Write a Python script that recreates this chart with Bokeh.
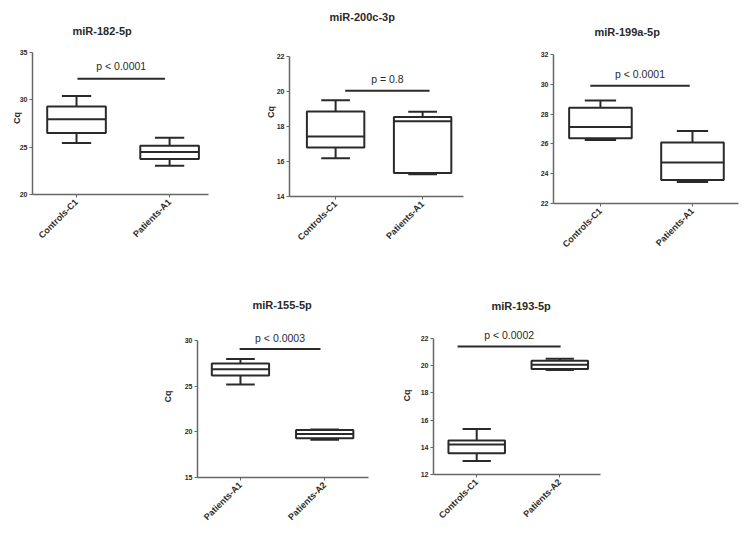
from math import pi
from bokeh.plotting import figure
from bokeh.layouts import row, column
from bokeh.models import Spacer, Range1d, FixedTicker, ColumnDataSource
from bokeh.embed import file_html
from bokeh.resources import INLINE
from bokeh.core.properties import value

# ---------------- data ----------------
titles = ["miR-182-5p", "miR-200c-3p", "miR-199a-5p", "miR-155-5p", "miR-193-5p"]
groups = [
    ["Controls-C1", "Patients-A1"],
    ["Controls-C1", "Patients-A1"],
    ["Controls-C1", "Patients-A1"],
    ["Patients-A1", "Patients-A2"],
    ["Controls-C1", "Patients-A2"],
]
y_ticks = [
    [20, 25, 30, 35],
    [14, 16, 18, 20, 22],
    [22, 24, 26, 28, 30, 32],
    [15, 20, 25, 30],
    [12, 14, 16, 18, 20, 22],
]
whisker_low = [[25.45, 23.04], [16.19, 15.27], [26.27, 23.44], [25.18, 19.13], [13.00, 19.68]]
q1 = [[26.50, 23.74], [16.80, 15.35], [26.38, 23.58], [26.16, 19.30], [13.56, 19.76]]
median = [[27.94, 24.50], [17.43, 18.30], [27.13, 24.76], [26.85, 19.75], [14.20, 20.07]]
q3 = [[29.30, 25.14], [18.86, 18.55], [28.42, 26.09], [27.47, 20.20], [14.50, 20.37]]
whisker_high = [[30.40, 26.00], [19.50, 18.84], [28.92, 26.87], [27.98, 20.25], [15.35, 20.51]]
p_labels = ["p < 0.0001", "p = 0.8", "p < 0.0001", "p < 0.0003", "p < 0.0002"]
sig_level = [32.24, 20.04, 29.90, 29.07, 21.41]
sig_from = [1.01, 1.11, 0.89, 0.99, 0.77]
sig_to = [1.95, 2.08, 1.97, 1.95, 2.01]
show_cq = [True, True, False, True, True]

# ---------------- layout / style ----------------
TITLE_GAP = 9  # px from title centre to frame top
geom = [
    # width, height, left, right, title_y, top_tick_y, bottom_y, xstart, xend, boxw,
    # title_offset, cq_standoff, ptext_offset
    (250, 270, 32, 42, 32, 52, 194, 0.527, 2.418, 0.63, 40, -5, 13),
    (262, 270, 39, 49, 18, 56, 196, 0.47, 2.47, 0.66, 40, -2, 12),
    (236, 270, 41, 10, 33, 54, 203, 0.49, 2.50, 0.68, 41, 2, 12),
    (245, 285, 47, 27, 36, 70, 207, 0.49, 2.52, 0.68, 55, 9, 11),
    (225, 285, 38, 20, 37, 68, 204, 0.48, 2.49, 0.68, 58, 6, 12),
]
SPACER_W = 150
FONT = "Liberation Sans"
INK = "#2a2a2a"
AXIS = "#666666"


def make_panel(i):
    w, h, bl, br, ty, tt, by, xs, xe, bw, toff, cqs, pto = geom[i]
    ticks = y_ticks[i]
    frame_top = ty + TITLE_GAP
    pad_px = tt - frame_top
    per_px = (ticks[-1] - ticks[0]) / (by - tt)
    p = figure(width=w, height=h, output_backend="svg", toolbar_location=None,
               x_range=Range1d(xs, xe),
               y_range=Range1d(ticks[0], ticks[-1] + pad_px * per_px),
               min_border_left=bl, min_border_right=br,
               min_border_top=frame_top, min_border_bottom=h - by,
               frame_align=False)
    p.outline_line_color = None
    p.xgrid.visible = False
    p.ygrid.visible = False
    p.background_fill_color = "white"
    p.border_fill_color = "white"

    # title
    p.title.text = titles[i]
    p.title.align = "left"
    p.title.offset = toff
    p.title.standoff = 10
    p.title.text_font = FONT
    p.title.text_font_style = "bold"
    p.title.text_font_size = "11px"
    p.title.text_color = INK

    # axes
    xa = p.xaxis[0]
    xa.ticker = FixedTicker(ticks=[1, 2])
    xa.major_label_overrides = {1: groups[i][0], 2: groups[i][1]}
    xa.major_label_orientation = pi / 4
    xa.major_label_text_font = FONT
    xa.major_label_text_font_style = "bold"
    xa.major_label_text_font_size = "9px"
    xa.major_label_text_color = INK
    xa.major_label_standoff = 3
    xa.minor_tick_line_color = None
    xa.major_tick_in = 0
    xa.major_tick_out = 3
    xa.axis_line_color = AXIS
    xa.axis_line_width = 1.5
    xa.major_tick_line_color = AXIS

    ya = p.yaxis[0]
    ya.ticker = FixedTicker(ticks=ticks)
    ya.bounds = (ticks[0], ticks[-1])
    ya.major_label_text_font = FONT
    ya.major_label_text_font_style = "bold"
    ya.major_label_text_font_size = "7px"
    ya.major_label_text_color = INK
    ya.major_label_standoff = 2
    ya.minor_tick_line_color = None
    ya.major_tick_in = 0
    ya.major_tick_out = 3
    ya.axis_line_color = AXIS
    ya.axis_line_width = 1.5
    ya.major_tick_line_color = AXIS
    if show_cq[i]:
        ya.axis_label = "Cq"
        ya.axis_label_text_font = FONT
        ya.axis_label_text_font_style = "bold"
        ya.axis_label_text_font_size = "9px"
        ya.axis_label_text_color = INK
        ya.axis_label_standoff = cqs

    # box plot
    xs_pos = [1, 2]
    src = ColumnDataSource(dict(
        x=xs_pos,
        left=[x - bw / 2 for x in xs_pos],
        right=[x + bw / 2 for x in xs_pos],
        cl=[x - bw / 4 for x in xs_pos],
        cr=[x + bw / 4 for x in xs_pos],
        lo=whisker_low[i], q1=q1[i], med=median[i], q3=q3[i], hi=whisker_high[i],
    ))
    lw = 2
    p.segment(x0="x", y0="q3", x1="x", y1="hi", source=src, line_color=INK, line_width=lw)
    p.segment(x0="x", y0="lo", x1="x", y1="q1", source=src, line_color=INK, line_width=lw)
    p.segment(x0="cl", y0="hi", x1="cr", y1="hi", source=src, line_color=INK, line_width=lw)
    p.segment(x0="cl", y0="lo", x1="cr", y1="lo", source=src, line_color=INK, line_width=lw)
    p.quad(left="left", right="right", bottom="q1", top="q3", source=src,
           fill_color="white", line_color=INK, line_width=lw)
    p.segment(x0="left", y0="med", x1="right", y1="med", source=src, line_color=INK, line_width=lw)

    # significance bar
    p.segment(x0=[sig_from[i]], y0=[sig_level[i]], x1=[sig_to[i]], y1=[sig_level[i]],
              line_color=INK, line_width=2)
    p.text(x=[(sig_from[i] + sig_to[i]) / 2], y=[sig_level[i]], text=[p_labels[i]],
           text_font=value(FONT), text_font_size="10.5px", text_color=INK,
           text_align="center", text_baseline="middle", y_offset=-pto)
    return p


panels = [make_panel(i) for i in range(5)]
top = row(panels[0], panels[1], panels[2])
bottom = row(Spacer(width=SPACER_W, height=285), panels[3], panels[4])
layout = column(top, bottom)

open("out.html", "w").write(file_html(layout, INLINE))
